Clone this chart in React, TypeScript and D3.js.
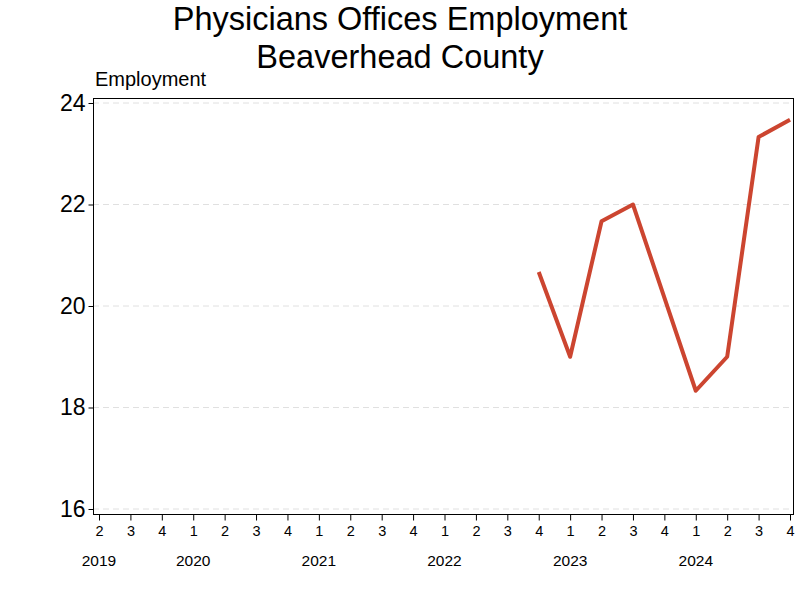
import React, { useEffect, useRef } from 'react';
import * as d3 from 'd3';

const quarters = [
  '2019Q2', '2019Q3', '2019Q4',
  '2020Q1', '2020Q2', '2020Q3', '2020Q4',
  '2021Q1', '2021Q2', '2021Q3', '2021Q4',
  '2022Q1', '2022Q2', '2022Q3', '2022Q4',
  '2023Q1', '2023Q2', '2023Q3', '2023Q4',
  '2024Q1', '2024Q2', '2024Q3', '2024Q4',
];
// null = no value published for that quarter
const employment: (number | null)[] = [
  null, null, null,
  null, null, null, null,
  null, null, null, null,
  null, null, null, 20.67,
  19, 21.67, 22, null,
  18.33, 19, 23.33, 23.67,
];
const yTicks = [16, 18, 20, 22, 24];
const titleLines = ['Physicians Offices Employment', 'Beaverhead County'];

export default function App() {
  const ref = useRef<SVGSVGElement | null>(null);

  useEffect(() => {
    const svg = d3.select(ref.current);
    svg.selectAll('*').remove();
    const width = 800, height = 600;
    const margin = { top: 98, right: 7, bottom: 86, left: 93 };
    const font = 'Liberation Sans, Arial, sans-serif';

    const x = d3.scalePoint<string>().domain(quarters)
      .range([99, 790]);
    const y = d3.scaleLinear().domain([16, 24]).range([509, 103]);

    svg.attr('viewBox', `0 0 ${width} ${height}`).attr('width', width).attr('height', height);

    // title
    svg.append('g').selectAll('text').data(titleLines).join('text')
      .attr('x', width / 2)
      .attr('y', (_, i) => 30 + i * 38)
      .attr('text-anchor', 'middle')
      .attr('font-family', font)
      .attr('font-size', 32.5)
      .attr('fill', '#000')
      .text(d => d);

    svg.append('text')
      .attr('x', 95).attr('y', 86)
      .attr('font-family', font).attr('font-size', 20)
      .text('Employment');

    // grid
    svg.append('g').selectAll('line').data(yTicks).join('line')
      .attr('x1', margin.left).attr('x2', width - margin.right)
      .attr('y1', d => y(d)).attr('y2', d => y(d))
      .attr('stroke', '#e0e0e0').attr('stroke-dasharray', '6,4');

    // frame
    svg.append('rect')
      .attr('x', margin.left + 0.5).attr('y', margin.top + 0.5)
      .attr('width', width - margin.right - margin.left)
      .attr('height', height - margin.bottom - margin.top)
      .attr('fill', 'none').attr('stroke', '#000');

    // y axis
    const yAxis = svg.append('g')
      .attr('transform', `translate(${margin.left + 0.5},0)`)
      .call(d3.axisLeft(y).tickValues(yTicks).tickSize(5).tickPadding(3).tickFormat(d3.format('d')));
    yAxis.select('.domain').remove();
    yAxis.selectAll('text').attr('font-family', font).attr('font-size', 23).attr('fill', '#000');

    // x axis
    const xAxis = svg.append('g')
      .attr('transform', `translate(0,${height - margin.bottom + 0.5})`)
      .call(d3.axisBottom(x).tickSize(6).tickPadding(5).tickFormat(d => d.slice(5)));
    xAxis.select('.domain').remove();
    xAxis.selectAll('text').attr('font-family', font).attr('font-size', 14.5).attr('fill', '#000');

    // years
    const yearTicks = quarters.filter((q, i) => i === 0 || q.endsWith('Q1'));
    svg.append('g').selectAll('text').data(yearTicks).join('text')
      .attr('x', d => x(d) as number)
      .attr('y', 566)
      .attr('text-anchor', 'middle')
      .attr('font-family', font).attr('font-size', 15.5)
      .text(d => d.slice(0, 4));

    // series
    const pts = quarters.map((q, i) => ({ q, v: employment[i] })).filter(d => d.v !== null);
    const line = d3.line<{ q: string; v: number | null }>()
      .x(d => x(d.q) as number)
      .y(d => y(d.v as number));

    svg.append('path')
      .datum(pts)
      .attr('fill', 'none')
      .attr('stroke', '#cc4530')
      .attr('stroke-width', 4)
      .attr('stroke-linejoin', 'round')
      .attr('d', line);
  }, []);

  return <svg ref={ref} style={{ position: 'absolute', left: 0, top: 0, background: '#fff' }} />;
}
